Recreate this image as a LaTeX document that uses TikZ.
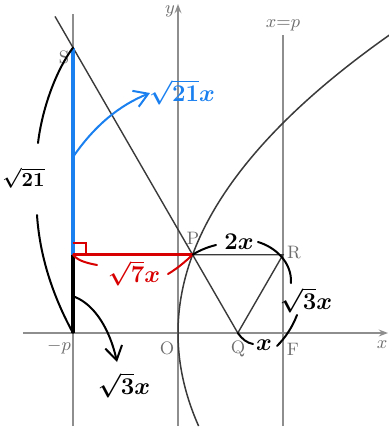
\documentclass[tikz,border=0pt]{standalone}
\usepackage{amsmath}
\usepackage{tikz}
\usetikzlibrary{arrows.meta}
\definecolor{axisgray}{HTML}{8E8E8E}
\definecolor{ink}{HTML}{3A3A3A}
\definecolor{labgray}{HTML}{6E6E6E}
\definecolor{penblue}{HTML}{1A80F0}
\definecolor{penred}{HTML}{D80000}
\tikzset{
  >={Straight Barb[length=2.4mm,width=3mm]},
  axis/.style={draw=axisgray,line width=.8pt},
  axisarrow/.style={axis,-{Stealth[length=1.6mm,width=1.2mm]}},
  edge/.style={draw=ink,line width=.7pt},
  curve/.style={draw=ink,line width=.75pt},
  seg/.style={line width=1.6pt},
  pen/.style={line width=1pt,line cap=round},
  lab/.style={font=\small,text=labgray,inner sep=1pt},
  hand/.style={font=\large\boldmath,inner sep=1pt},
}

\begin{document}
\begin{tikzpicture}[x=.5pt,y=-.5pt]
  \useasboundingbox (0,0) rectangle (389,430);

  % points of the figure
  \coordinate (O) at (178,333);
  \coordinate (F) at (283,333);
  \coordinate (Q) at (237.8,333);
  \coordinate (P) at (192.6,254.7);
  \coordinate (R) at (283,254.7);
  \coordinate (S) at (73,47.6);
  \coordinate (H) at (73,254.7);
  \coordinate (D) at (73,333);
  \coordinate (Stop) at (55,16.4);
  \coordinate (xl) at (23,333);
  \coordinate (xr) at (388,333);
  \coordinate (yb) at (178,426);
  \coordinate (yt) at (178,4);
  \coordinate (dt) at (73,14);
  \coordinate (db) at (73,426);
  \coordinate (pt) at (283,35);
  \coordinate (pb) at (283,426);

  % axes and the two vertical lines
  \draw[axisarrow] (xl) -- (xr);
  \draw[axisarrow] (yb) -- (yt);
  \draw[axis] (db) -- (dt);
  \draw[axis] (pb) -- (pt);

  % parabola
  \draw[curve] plot[domain=-9.3:30,samples=80,smooth] ({178+\x*\x/4.2},{333-10*\x});

  % lines of the triangle
  \draw[edge] (Stop) -- (Q) -- (R) -- (P);

  % marked segments
  \draw[seg,penblue] (S) -- (H);
  \draw[seg,black] (H) -- (D);
  \draw[seg,penred] (H) -- (P);
  \draw[penred,line width=1pt] (H) ++(0,-12) -- ++(13,0) -- ++(0,12);

  % labels
  \node[lab] (ylab) at (170,11) {$y$};
  \node[lab] (xlab) at (382,345) {$x$};
  \node[lab] (plab) at (283,25) {$x{=}p$};
  \node[lab] (Slab) at (64,57) {S};
  \node[lab] (Plab) at (193,238) {P};
  \node[lab] (Rlab) at (294,253) {R};
  \node[lab] (Qlab) at (238,349) {Q};
  \node[lab] (Flab) at (293,349) {F};
  \node[lab] (Olab) at (167,348) {O};
  \node[lab] (mplab) at (59,347) {$-p$};

  % hand notes
  \draw[pen,penblue,->] (73,157) .. controls (95,125) and (120,105) .. (150,93);
  \node[hand,text=penblue] (blue) at (182,92) {$\sqrt{21}x$};

  \draw[pen,penred] (H) .. controls (78,261) and (87,263) .. (97,265);
  \draw[pen,penred] (168,274) .. controls (178,268) and (186,261) .. (P);
  \node[hand,text=penred] (red) at (134,273) {$\sqrt{7}x$};

  \draw[pen,black] (S) .. controls (55,72) and (42,110) .. (38,143);
  \draw[pen,black] (37,215) .. controls (40,260) and (55,300) .. (D);
  \node[hand,font=\normalsize\boldmath,anchor=west,inner sep=0pt] (left) at (2,178) {$\sqrt{21}$};

  \draw[pen,black,->] (75,297) .. controls (95,305) and (110,330) .. (117,362);
  \node[hand] (low) at (124,385) {$\sqrt{3}x$};

  \draw[pen,black] (P) .. controls (200,250) and (208,247) .. (216,245);
  \node[hand] (top) at (239,242) {$2x$};
  \draw[pen,black] (258,242) .. controls (275,247) and (292,262) .. (291,283);
  \node[hand] (side) at (306,300) {$\sqrt{3}x$};
  \draw[pen,black] (297,315) .. controls (292,328) and (285,338) .. (277,346);
  \node[hand] (base) at (264,345) {$x$};
  \draw[pen,black] (Q) .. controls (242,339) and (247,343) .. (253,344);
\end{tikzpicture}
\end{document}
